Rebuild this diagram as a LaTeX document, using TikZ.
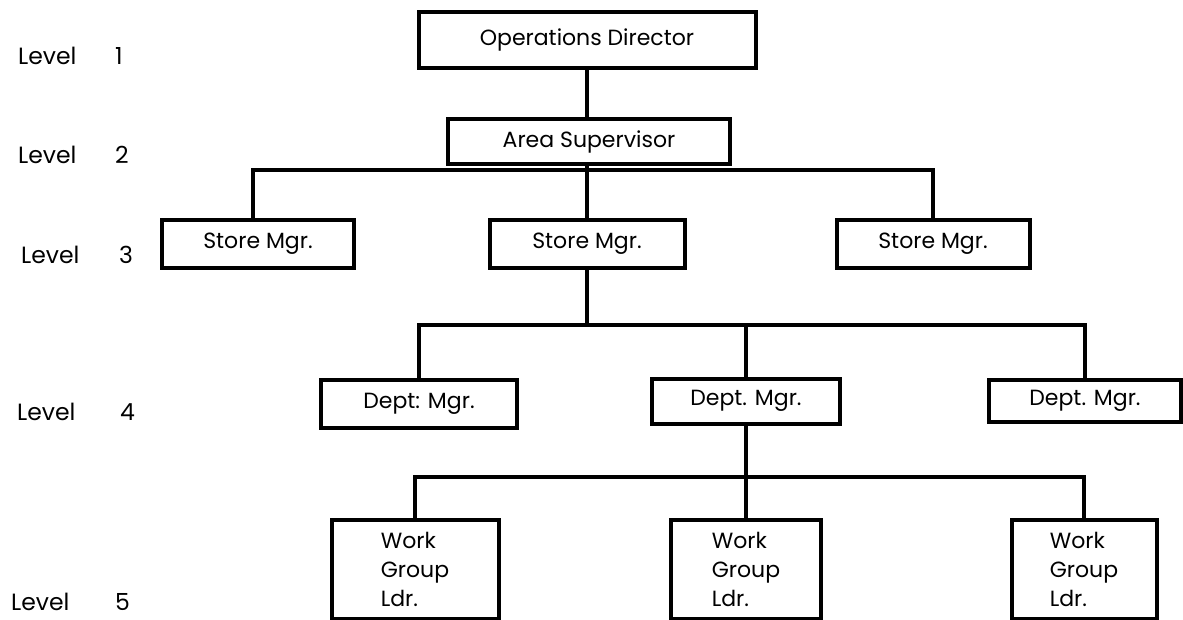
\documentclass[tikz,border=0pt]{standalone}
\usepackage{fontspec}
\setmainfont{Poppins}
\begin{document}
\begin{tikzpicture}[x=1pt,y=-1pt,
  box/.style={draw=black, line width=4pt, rectangle, inner sep=0pt, font=\fontsize{22}{29}\selectfont},
  conn/.style={draw=black, line width=3.5pt},
  lvl/.style={anchor=west, inner sep=0pt, font=\fontsize{23.5}{28}\selectfont}]
\useasboundingbox (0,0) rectangle (1183,619);
% level labels
\node[lvl] (l1) at (18,56) {\makebox[97pt][l]{Level}1};
\node[lvl] (l2) at (18,155) {\makebox[97pt][l]{Level}2};
\node[lvl] (l3) at (21,255) {\makebox[98pt][l]{Level}3};
\node[lvl] (l4) at (17,412) {\makebox[103pt][l]{Level}4};
\node[lvl] (l5) at (11,602) {\makebox[104pt][l]{Level}5};
% boxes
\node[box, minimum width=337pt, minimum height=56pt] (od) at (587,40) {Operations Director};
\node[box, minimum width=282pt, minimum height=45pt] (as) at (589,141.5) {Area Supervisor};
\node[box, minimum width=192pt, minimum height=48pt] (s1) at (258,244) {Store Mgr.};
\node[box, minimum width=195pt, minimum height=48pt] (s2) at (587,244) {Store Mgr.};
\node[box, minimum width=193pt, minimum height=48pt] (s3) at (933,244) {Store Mgr.};
\node[box, minimum width=196pt, minimum height=48pt] (d1) at (419,404) {Dept: Mgr.};
\node[box, minimum width=188pt, minimum height=45pt] (d2) at (746,401) {Dept. Mgr.};
\node[box, minimum width=192pt, minimum height=42pt] (d3) at (1085,401) {Dept. Mgr.};
\node[box, minimum width=167pt, minimum height=99pt, align=left] (w1) at (415,569) {Work\\Group\\Ldr.};
\node[box, minimum width=150pt, minimum height=99pt, align=left] (w2) at (746,569) {Work\\Group\\Ldr.};
\node[box, minimum width=145pt, minimum height=99pt, align=left] (w3) at (1084,569) {Work\\Group\\Ldr.};
% bus coordinates
\coordinate (b3) at (587,170);
\coordinate (b4) at (587,325);
\coordinate (b5) at (746,477);
% connectors
\draw[conn] (od.south) -- (od.south |- as.north);
\draw[conn] (as.south -| s2.north) -- (s2.north);
\draw[conn] ([xshift=-5pt]s1.north) |- (b3) -| (s3.north);
\draw[conn] (s2.south) -- (b4);
\draw[conn] (d1.north) |- (b4) -| (d3.north);
\draw[conn] (b4) -| (d2.north);
\draw[conn] (d2.south) -- (w2.north);
\draw[conn] (w1.north) |- (b5) -| (w3.north);
\end{tikzpicture}
\end{document}
